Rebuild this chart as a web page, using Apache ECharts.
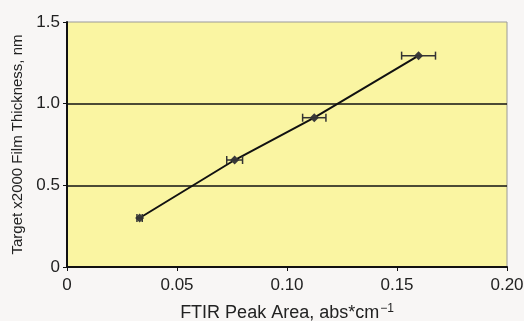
<!DOCTYPE html>
<html>
<head>
<meta charset="utf-8">
<script src="https://cdn.jsdelivr.net/npm/echarts@6/dist/echarts.min.js"></script>
<style>
  html, body { margin: 0; padding: 0; background: #f8f6f5; }
  #chart { width: 524px; height: 321px; }
</style>
</head>
<body>
<div id="chart"></div>
<script>
// FTIR peak area (abs*cm^-1) vs. film thickness (nm)
const peakArea = [0.033, 0.0762, 0.1124, 0.1598];
const thickness = [0.30, 0.655, 0.914, 1.294];
// horizontal uncertainty of each peak area (+/-)
const areaError = [0.0012, 0.0036, 0.0053, 0.0077];

const xTicks = ['0', '0.05', '0.10', '0.15', '0.20'];
const yTicks = ['0', '0.5', '1.0', '1.5'];

const points = peakArea.map((x, i) => [x, thickness[i]]);
const errorData = peakArea.map((x, i) => [x - areaError[i], x + areaError[i], thickness[i]]);

const font = 'Liberation Sans, Arial, sans-serif';
const chart = echarts.init(document.getElementById('chart'));

chart.setOption({
  backgroundColor: '#f8f6f5',
  animation: false,
  grid: {
    left: 67, right: 17, top: 22, bottom: 54,
    outerBoundsMode: 'none',
    show: true,
    backgroundColor: '#faf5a2',
    borderColor: '#9a9a9a',
    borderWidth: 1
  },
  xAxis: {
    type: 'value',
    min: 0, max: 0.2, interval: 0.05,
    name: '{t|FTIR Peak Area, abs*cm}{s|−1}',
    nameLocation: 'middle',
    nameGap: 36,
    nameTextStyle: {
      rich: {
        t: { fontFamily: font, fontSize: 18, color: '#222' },
        s: { fontFamily: font, fontSize: 12, color: '#222', verticalAlign: 'top', padding: [0, 0, 9, 1] }
      }
    },
    axisLine: { show: true, lineStyle: { color: '#111', width: 2 } },
    axisTick: { show: true, length: 4, lineStyle: { color: '#111', width: 1 } },
    axisLabel: {
      fontFamily: font, fontSize: 17, color: '#222', margin: 10,
      formatter: v => xTicks[Math.round(v / 0.05)]
    },
    splitLine: { show: false }
  },
  yAxis: {
    type: 'value',
    min: 0, max: 1.5, interval: 0.5,
    name: 'Target x2000 Film Thickness, nm',
    nameLocation: 'middle',
    nameGap: 39,
    nameTextStyle: { fontFamily: font, fontSize: 15, color: '#222' },
    axisLine: { show: true, lineStyle: { color: '#111', width: 2 } },
    axisTick: { show: true, length: 4, lineStyle: { color: '#111', width: 1 } },
    axisLabel: {
      fontFamily: font, fontSize: 17, color: '#222', margin: 7,
      formatter: v => yTicks[Math.round(v / 0.5)]
    },
    splitLine: {
      show: true,
      lineStyle: { color: '#111', width: 1.5 },
      showMinLine: false,
      showMaxLine: false
    }
  },
  series: [
    {
      type: 'line',
      data: points,
      symbol: 'diamond',
      symbolSize: 9,
      lineStyle: { color: '#111', width: 2 },
      itemStyle: { color: '#3a3a3a' },
      z: 3
    },
    {
      type: 'custom',
      data: errorData,
      z: 4,
      renderItem: (params, api) => {
        const lo = api.coord([api.value(0), api.value(2)]);
        const hi = api.coord([api.value(1), api.value(2)]);
        const cap = 4;
        const style = { stroke: '#333', lineWidth: 1.5 };
        return {
          type: 'group',
          children: [
            { type: 'line', shape: { x1: lo[0], y1: lo[1], x2: hi[0], y2: hi[1] }, style },
            { type: 'line', shape: { x1: lo[0], y1: lo[1] - cap, x2: lo[0], y2: lo[1] + cap }, style },
            { type: 'line', shape: { x1: hi[0], y1: hi[1] - cap, x2: hi[0], y2: hi[1] + cap }, style }
          ]
        };
      }
    }
  ]
});
</script>
</body>
</html>
